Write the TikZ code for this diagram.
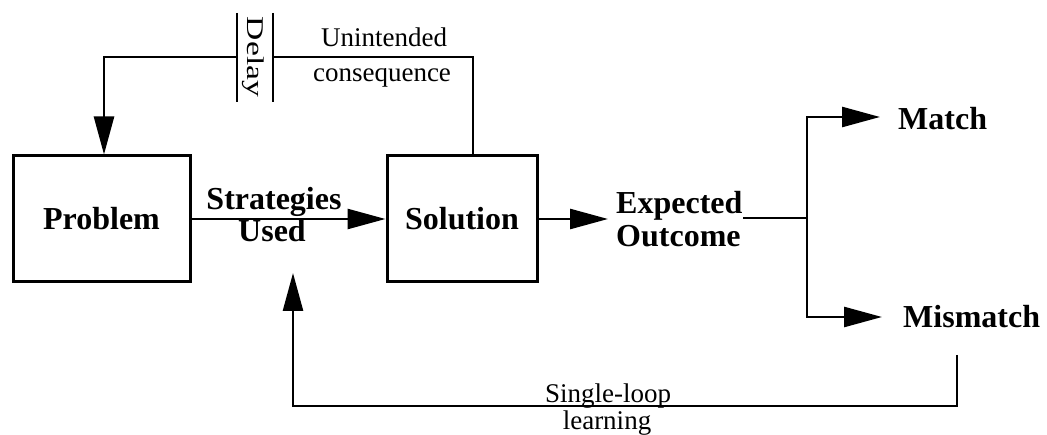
\documentclass[tikz,border=0pt]{standalone}
\usepackage{fontspec}
\setmainfont{Liberation Serif}
\usetikzlibrary{arrows.meta}

\tikzset{
  box/.style={draw, line width=3pt, minimum width=#1, minimum height=126pt,
              inner sep=0pt, font=\fontsize{32}{32}\selectfont\bfseries},
  big/.style={inner sep=0pt, font=\fontsize{32}{32}\selectfont\bfseries},
  small/.style={inner sep=0pt, font=\fontsize{27}{27}\selectfont},
  ln/.style={line width=2.6pt},
  arr/.style={ln, -{Triangle[length=38pt, width=20pt]}},
  bar/.style={line width=2.8pt},
}

\begin{document}
\begin{tikzpicture}[x=1pt, y=-1pt]
  \useasboundingbox (0,0) rectangle (1047,435);

  % main boxes
  \node[box=177pt] (prob) at (101.5,219) {Problem};
  \node[box=150pt] (sol)  at (462,219)   {Solution};

  % labels
  \node[big, anchor=base] (stratA) at (274,210) {Strategies};
  \node[big, anchor=base] (stratB) at (272,242) {Used};
  \node[big, anchor=base west] (expA) at (616,214) {Expected};
  \node[big, anchor=base west] (expB) at (616,247) {Outcome};
  \node[big, anchor=base west] (match) at (898,130) {Match};
  \node[big, anchor=base west] (mis) at (903,328) {Mismatch};
  \node[small, anchor=base] (unA) at (384,47) {Unintended};
  \node[small, anchor=base] (unB) at (382,82) {consequence};
  \node[small, anchor=base] (slA) at (608,403) {Single-loop};
  \node[small, anchor=base] (slB) at (607,430) {learning};
  \node[inner sep=0pt, rotate=-90, font=\fontsize{24}{24}\selectfont]
       (delay) at (253,57) {\scalebox{1.4}[1]{Delay}};

  % routing points
  \coordinate (outTip) at (608,219);
  \coordinate (expEnd) at (743,218);
  \coordinate (fork)   at (807,218);
  \coordinate (mTip)   at (880,117);
  \coordinate (mmTip)  at (882,317);
  \coordinate (fbTop)  at (957,355);
  \coordinate (fbBot)  at (957,406);
  \coordinate (fbLeft) at (293,406);
  \coordinate (fbTip)  at (293,273);
  \coordinate (topR)   at (473,57);
  \coordinate (dR)     at (273,57);
  \coordinate (dL)     at (237,57);
  \coordinate (topL)   at (104,57);

  % delay bars
  \draw[bar] (237,13) -- (237,102);
  \draw[bar] (273,13) -- (273,102);

  % forward path
  \draw[arr] (prob.east) -- (sol.west);
  \draw[arr] (sol.east) -- (outTip);
  \draw[ln] (expEnd) -- (fork);
  \draw[arr] (fork) |- (mTip);
  \draw[arr] (fork) |- (mmTip);

  % single-loop feedback
  \draw[arr] (fbTop) -- (fbBot) -- (fbLeft) -- (fbTip);

  % unintended consequence loop through the delay
  \draw[ln] (sol.north -| topR) -- (topR) -- (dR);
  \draw[arr] (dL) -- (topL) -- (prob.north -| topL);
\end{tikzpicture}
\end{document}
